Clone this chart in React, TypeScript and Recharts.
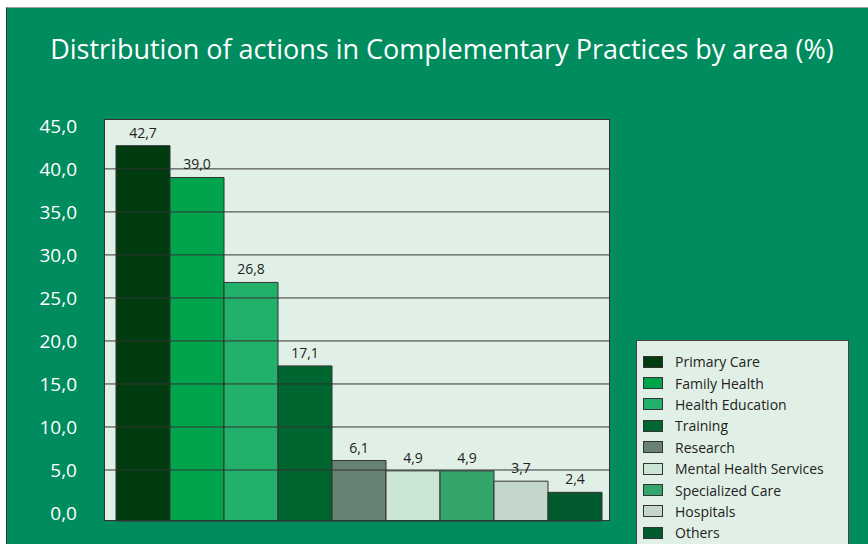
import { Bar, BarChart, CartesianGrid, LabelList, ReferenceLine, XAxis, YAxis } from "recharts";

const AREAS = [
  "Primary Care",
  "Family Health",
  "Health Education",
  "Training",
  "Research",
  "Mental Health Services",
  "Specialized Care",
  "Hospitals",
  "Others",
];
const SHARES = [42.7, 39.0, 26.8, 17.1, 6.1, 4.9, 4.9, 3.7, 2.4];
const COLORS = [
  "#003C10",
  "#00A44C",
  "#21B16B",
  "#006630",
  "#678273",
  "#CCE6D6",
  "#34A56B",
  "#C3D7CA",
  "#005A2E",
];
const Y_TICKS = [0, 5, 10, 15, 20, 25, 30, 35, 40, 45];
const GRID_LINES = [5, 10, 15, 20, 25, 30, 35, 40];
// the original frame runs a little past 0 and 45
const Y_MIN = -0.93;
const Y_MAX = 45.8;

const FONT = "'Open Sans', 'Noto Sans', sans-serif";
const comma = (v: number) => v.toFixed(1).replace(".", ",");

// one category, one series per area (legend lists the series)
const row: Record<string, number | string> = { name: "" };
AREAS.forEach((a, i) => {
  row[`s${i}`] = SHARES[i];
});
const data = [row];

export default function App() {
  return (
    <div
      style={{
        position: "fixed",
        left: 0,
        top: 0,
        width: 868,
        height: 544,
        overflow: "hidden",
        background: "#fff",
        fontFamily: FONT,
      }}
    >
      <div
        style={{
          position: "absolute",
          left: 6,
          top: 7,
          right: 0,
          bottom: 0,
          background: "#008C5E",
          borderLeft: "1px solid #2a3a30",
          borderTop: "1px solid #9aa09c",
        }}
      />
      <div
        style={{
          position: "absolute",
          left: 8,
          top: 33,
          width: 868,
          textAlign: "center",
          color: "#fff",
          fontSize: 27,
          lineHeight: "32px",
        }}
      >
        Distribution of actions in Complementary Practices by area (%)
      </div>
      <div style={{ position: "absolute", left: 0, top: 0 }}>
        <BarChart
          width={868}
          height={544}
          data={data}
          margin={{ top: 119, right: 258, bottom: 23, left: 44 }}
          barCategoryGap={0}
          barGap={0}
        >
          <CartesianGrid horizontal={false} vertical={false} fill="#E1F0E6" fillOpacity={1} />
          <XAxis dataKey="name" hide padding={{ left: 12, right: 9 }} />
          <YAxis
            width={60}
            domain={[Y_MIN, Y_MAX]}
            ticks={Y_TICKS}
            interval={0}
            tickFormatter={comma}
            tick={{ fill: "#fff", fontSize: 19, fontFamily: FONT }}
            tickLine={false}
            tickSize={0}
            tickMargin={27}
            axisLine={false}
          />
          {GRID_LINES.map((v) => (
            <ReferenceLine key={v} y={v} stroke="#333" strokeWidth={1} ifOverflow="extendDomain" />
          ))}
          {AREAS.map((a, i) => (
            <Bar
              key={a}
              dataKey={(d: Record<string, number>) => [Y_MIN, d[`s${i}`]]}
              name={a}
              fill={COLORS[i]}
              stroke="#333"
              strokeWidth={1}
              isAnimationActive={false}
            >
              <LabelList
                dataKey={`s${i}`}
                position="top"
                offset={8}
                formatter={(v: unknown) => comma(Number(v))}
                style={{ fill: "#222", fontSize: 14, fontFamily: FONT }}
              />
            </Bar>
          ))}
        </BarChart>
      </div>
      {/* plot frame */}
      <div
        style={{
          position: "absolute",
          left: 104,
          top: 119,
          width: 506,
          height: 402,
          border: "1px solid #333",
          boxSizing: "border-box",
          pointerEvents: "none",
        }}
      />
      <div
        style={{
          position: "absolute",
          left: 636,
          top: 340,
          width: 213,
          height: 220,
          background: "#E1F0E6",
          border: "1px solid #444",
          paddingTop: 10,
          boxSizing: "border-box",
        }}
      >
        {AREAS.map((a, i) => (
          <div
            key={a}
            style={{ display: "flex", alignItems: "center", height: 21.4, fontSize: 14, color: "#222" }}
          >
            <span
              style={{
                display: "inline-block",
                width: 20,
                height: 12,
                marginLeft: 6,
                marginRight: 12,
                background: COLORS[i],
                border: "1px solid #333",
                boxSizing: "border-box",
              }}
            />
            {a}
          </div>
        ))}
      </div>
    </div>
  );
}
